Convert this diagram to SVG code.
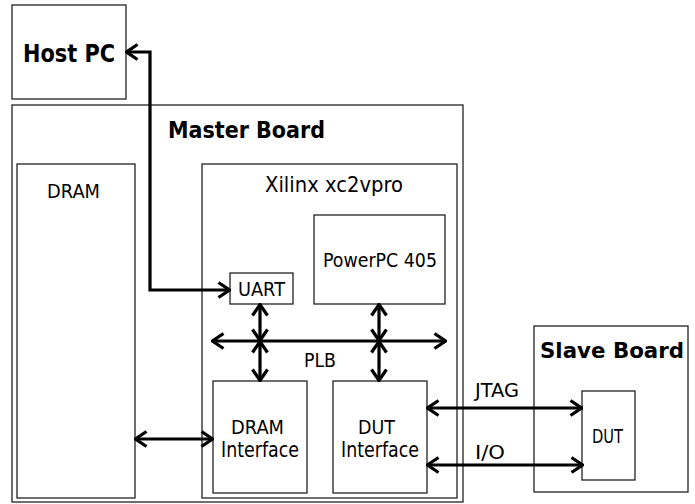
<svg xmlns="http://www.w3.org/2000/svg" width="695" height="504" viewBox="0 0 695 504">
<defs>
<style>
.box{fill:#fff;stroke:#222;stroke-width:1.3}
.t{font-family:"DejaVu Sans",Verdana,sans-serif;fill:#000}
.b{font-weight:bold}
.c{fill:none;stroke:#000;stroke-width:3.2}
</style>
<marker id="ah" viewBox="0 0 14 18" refX="13" refY="9" markerWidth="14" markerHeight="18" markerUnits="userSpaceOnUse" orient="auto-start-reverse">
<path d="M1.5,1.5 L12.5,9 L1.5,16.5" fill="none" stroke="#000" stroke-width="3.2" stroke-linejoin="miter"/>
</marker>
</defs>
<rect width="695" height="504" fill="#fff"/>
<g id="host-pc">
<rect class="box" x="12" y="5" width="114" height="94"/>
<text class="t b" x="23" y="62" font-size="24" textLength="92" lengthAdjust="spacingAndGlyphs">Host PC</text>
</g>
<g id="master-board">
<rect class="box" x="12" y="105" width="451" height="397" stroke="#444"/>
<text class="t b" x="168" y="138" font-size="23" textLength="157" lengthAdjust="spacingAndGlyphs">Master Board</text>
</g>
<g id="dram">
<rect class="box" x="17" y="164" width="118" height="334"/>
<text class="t" x="47" y="198" font-size="19" textLength="53" lengthAdjust="spacingAndGlyphs">DRAM</text>
</g>
<g id="xilinx">
<rect class="box" x="202" y="164" width="255" height="334"/>
<text class="t" x="265" y="192" font-size="22" textLength="138" lengthAdjust="spacingAndGlyphs">Xilinx xc2vpro</text>
</g>
<g id="powerpc">
<rect class="box" x="314" y="215" width="131" height="89"/>
<text class="t" x="323" y="267" font-size="20" textLength="114" lengthAdjust="spacingAndGlyphs">PowerPC 405</text>
</g>
<g id="uart">
<rect class="box" x="230" y="273" width="63" height="31"/>
<text class="t" x="238" y="296" font-size="19" textLength="47" lengthAdjust="spacingAndGlyphs">UART</text>
</g>
<g id="dram-interface">
<rect class="box" x="213" y="381" width="94" height="112"/>
<text class="t" x="231" y="434" font-size="20" textLength="53" lengthAdjust="spacingAndGlyphs">DRAM</text>
<text class="t" x="221" y="457" font-size="21" textLength="78" lengthAdjust="spacingAndGlyphs">Interface</text>
</g>
<g id="dut-interface">
<rect class="box" x="333" y="381" width="94" height="112"/>
<text class="t" x="358" y="434" font-size="20" textLength="37" lengthAdjust="spacingAndGlyphs">DUT</text>
<text class="t" x="341" y="457" font-size="21" textLength="78" lengthAdjust="spacingAndGlyphs">Interface</text>
</g>
<g id="slave-board">
<rect class="box" x="534" y="326" width="154" height="166"/>
<text class="t b" x="540" y="358" font-size="22" textLength="144" lengthAdjust="spacingAndGlyphs">Slave Board</text>
</g>
<g id="dut">
<rect class="box" x="582" y="391" width="53" height="89"/>
<text class="t" x="592" y="443" font-size="19" textLength="31" lengthAdjust="spacingAndGlyphs">DUT</text>
</g>
<g id="connectors">
<path class="c" d="M230,290 H150 V52 H126" marker-start="url(#ah)" marker-end="url(#ah)"/>
<path class="c" d="M212,341 H446" marker-start="url(#ah)" marker-end="url(#ah)"/>
<path class="c" d="M260,304 V341" marker-start="url(#ah)" marker-end="url(#ah)"/>
<path class="c" d="M260,341 V381" marker-start="url(#ah)" marker-end="url(#ah)"/>
<path class="c" d="M379,304 V341" marker-start="url(#ah)" marker-end="url(#ah)"/>
<path class="c" d="M379,341 V381" marker-start="url(#ah)" marker-end="url(#ah)"/>
<path class="c" d="M135,439 H213" marker-start="url(#ah)" marker-end="url(#ah)"/>
<path class="c" d="M427,408 H582" marker-start="url(#ah)" marker-end="url(#ah)"/>
<path class="c" d="M427,465 H583" marker-start="url(#ah)" marker-end="url(#ah)"/>
<text class="t" x="304" y="367" font-size="20" textLength="32" lengthAdjust="spacingAndGlyphs">PLB</text>
<text class="t" x="475" y="397" font-size="20" textLength="44" lengthAdjust="spacingAndGlyphs">JTAG</text>
<text class="t" x="475" y="459" font-size="20" textLength="30" lengthAdjust="spacingAndGlyphs">I/O</text>
</g>
</svg>
